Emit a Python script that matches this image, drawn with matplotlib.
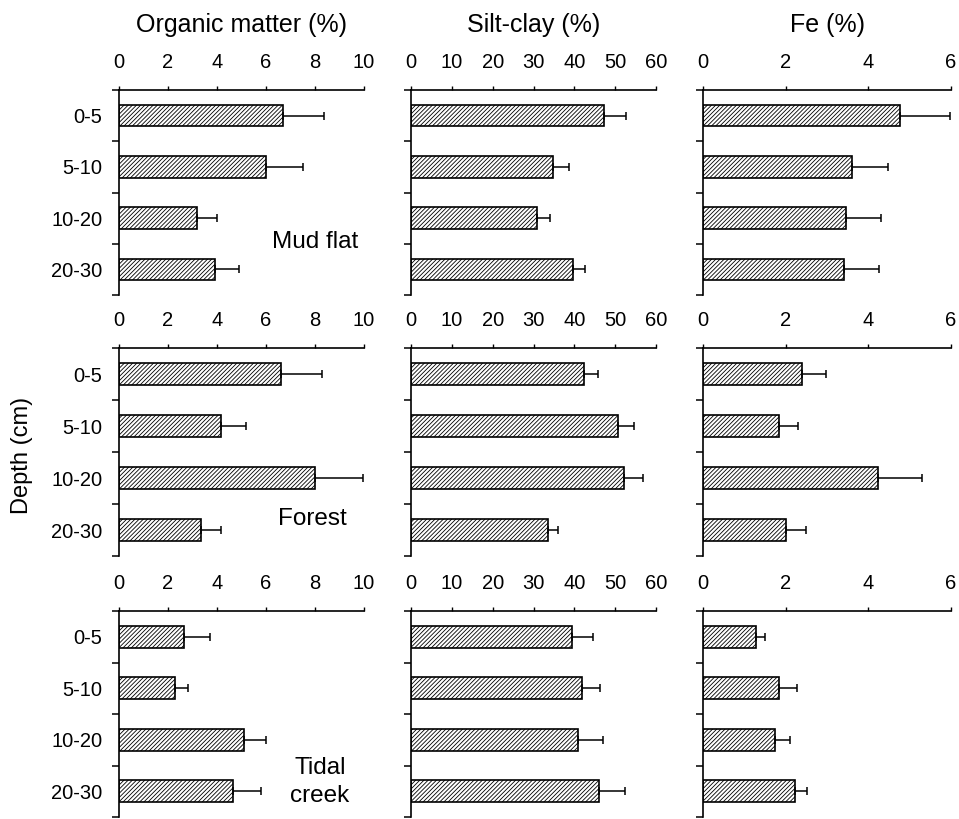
import matplotlib
matplotlib.use("Agg")
import matplotlib.pyplot as plt
import numpy as np

plt.rcParams["font.family"] = ["Liberation Sans", "DejaVu Sans"]
plt.rcParams["hatch.linewidth"] = 0.6

# depth classes (cm)
depths = ["0-5", "5-10", "10-20", "20-30"]
sites = ["Mud flat", "Forest", "Tidal\ncreek"]
variables = ["Organic matter (%)", "Silt-clay (%)", "Fe (%)"]
x_max = [10, 60, 6]
x_ticks = [[0, 2, 4, 6, 8, 10], [0, 10, 20, 30, 40, 50, 60], [0, 2, 4, 6]]

# Mud flat
om_mud = [6.71, 6.01, 3.20, 3.91]
om_mud_err = [1.64, 1.50, 0.82, 0.99]
sc_mud = [47.2, 34.8, 30.9, 39.6]
sc_mud_err = [5.4, 3.8, 3.1, 2.9]
fe_mud = [4.77, 3.61, 3.45, 3.42]
fe_mud_err = [1.21, 0.87, 0.85, 0.84]

# Forest
om_forest = [6.62, 4.17, 8.00, 3.34]
om_forest_err = [1.65, 1.02, 1.96, 0.82]
sc_forest = [42.3, 50.6, 52.1, 33.6]
sc_forest_err = [3.4, 4.1, 4.6, 2.5]
fe_forest = [2.39, 1.83, 4.24, 2.00]
fe_forest_err = [0.59, 0.46, 1.05, 0.50]

# Tidal creek
om_creek = [2.67, 2.29, 5.09, 4.64]
om_creek_err = [1.03, 0.52, 0.90, 1.17]
sc_creek = [39.4, 41.8, 40.8, 46.1]
sc_creek_err = [5.1, 4.4, 6.1, 6.2]
fe_creek = [1.28, 1.83, 1.73, 2.22]
fe_creek_err = [0.21, 0.45, 0.37, 0.30]

means = [[om_mud, sc_mud, fe_mud],
         [om_forest, sc_forest, fe_forest],
         [om_creek, sc_creek, fe_creek]]
errs = [[om_mud_err, sc_mud_err, fe_mud_err],
        [om_forest_err, sc_forest_err, fe_forest_err],
        [om_creek_err, sc_creek_err, fe_creek_err]]

W, H = 959, 819
fig = plt.figure(figsize=(W / 100, H / 100), dpi=100)

# axes boxes in pixels: (left, right) per column, (top, bottom) per row
col_px = [(119, 364), (411, 656), (703, 951)]
row_px = [(90, 295), (348, 556), (611, 817)]
site_pos = [(0.80, 0.26), (0.79, 0.18), (0.82, 0.17)]

y = np.arange(len(depths))

for r in range(3):
    for c in range(3):
        l, rr = col_px[c]
        t, b = row_px[r]
        ax = fig.add_axes([l / W, 1 - b / H, (rr - l) / W, (b - t) / H])
        m = np.array(means[r][c])
        e = np.array(errs[r][c])
        ax.barh(y, m, height=0.42, color="white", edgecolor="black",
                hatch="////////", linewidth=1.2, zorder=2)
        ax.errorbar(m, y, xerr=[np.zeros_like(e), e], fmt="none",
                    ecolor="black", elinewidth=1.1, capsize=3,
                    capthick=1.1, zorder=3)
        ax.set_xlim(0, x_max[c])
        ax.set_ylim(3.5, -0.5)
        ax.xaxis.tick_top()
        ax.set_xticks(x_ticks[c])
        ax.tick_params(axis="x", direction="out", length=3, width=1,
                       pad=10, labelsize=14.5)
        ax.set_yticks(y)
        ax.set_yticks(np.arange(-0.5, 4, 1), minor=True)
        ax.tick_params(axis="y", which="major", length=0, pad=12,
                       labelsize=14.5)
        ax.tick_params(axis="y", which="minor", length=5, width=1.1)
        if c == 0:
            ax.set_yticklabels(depths)
        else:
            ax.set_yticklabels([])
        ax.spines["right"].set_visible(False)
        ax.spines["bottom"].set_visible(False)
        ax.spines["top"].set_linewidth(1.2)
        ax.spines["left"].set_linewidth(1.2)
        if c == 0:
            ax.text(site_pos[r][0], site_pos[r][1], sites[r],
                    transform=ax.transAxes, ha="center", va="center",
                    fontsize=17.5, linespacing=1.3)

for c in range(3):
    l, rr = col_px[c]
    fig.text((l + rr) / 2 / W, 1 - 25 / H, variables[c],
             ha="center", va="center", fontsize=18)

fig.text(22 / W, 1 - 455 / H, "Depth (cm)", rotation=90,
         ha="center", va="center", fontsize=17)

fig.savefig("out.png", dpi=100)
